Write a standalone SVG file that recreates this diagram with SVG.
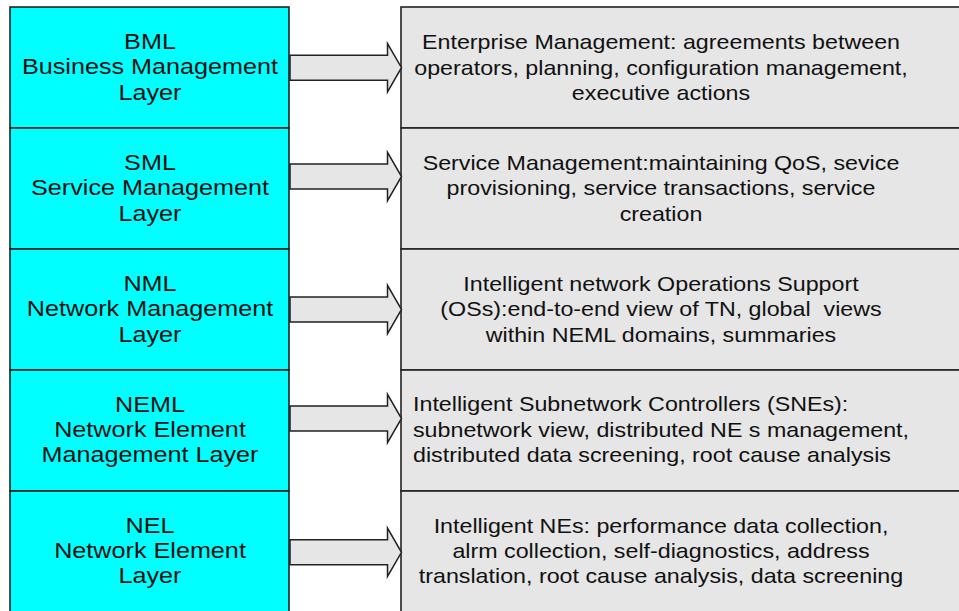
<svg xmlns="http://www.w3.org/2000/svg" width="959" height="611" viewBox="0 0 959 611">
<style>
.layer{fill:#00ffff;stroke:#222;stroke-width:1.6}
.func{fill:#e6e6e6;stroke:#222;stroke-width:1.6}
.arr{fill:#e6e6e6;stroke:#222;stroke-width:1.5;stroke-linejoin:miter}
text{font-family:"Liberation Sans",Arial,sans-serif;fill:#111}
.lt{font-size:22.1px;text-anchor:middle}
.rt{font-size:20.4px;text-anchor:middle}
.rs{font-size:20.4px;text-anchor:start}
</style>
<rect width="959" height="611" fill="#ffffff"/>
<g id="bml">
<rect class="layer" x="10" y="7" width="279" height="121"/>
<text class="lt" transform="translate(150 0) scale(1.14 1)"><tspan x="0" y="49">BML</tspan><tspan x="0" y="74.3">Business Management</tspan><tspan x="0" y="99.6">Layer</tspan></text>
</g>
<g id="sml">
<rect class="layer" x="10" y="128" width="279" height="121"/>
<text class="lt" transform="translate(150 0) scale(1.14 1)"><tspan x="0" y="170">SML</tspan><tspan x="0" y="195.3">Service Management</tspan><tspan x="0" y="220.6">Layer</tspan></text>
</g>
<g id="nml">
<rect class="layer" x="10" y="249" width="279" height="121"/>
<text class="lt" transform="translate(150 0) scale(1.14 1)"><tspan x="0" y="291">NML</tspan><tspan x="0" y="316.3">Network Management</tspan><tspan x="0" y="341.6">Layer</tspan></text>
</g>
<g id="neml">
<rect class="layer" x="10" y="370" width="279" height="121"/>
<text class="lt" transform="translate(150 0) scale(1.14 1)"><tspan x="0" y="411.7">NEML</tspan><tspan x="0" y="437">Network Element</tspan><tspan x="0" y="462.5">Management Layer</tspan></text>
</g>
<g id="nel">
<rect class="layer" x="10" y="491" width="279" height="130"/>
<text class="lt" transform="translate(150 0) scale(1.14 1)"><tspan x="0" y="532.7">NEL</tspan><tspan x="0" y="558">Network Element</tspan><tspan x="0" y="583.3">Layer</tspan></text>
</g>
<g id="enterprise">
<rect class="func" x="401" y="7" width="570" height="121"/>
<text class="rt" transform="translate(661 0) scale(1.14 1)"><tspan x="0" y="49.3">Enterprise Management: agreements between</tspan><tspan x="0" y="74.6">operators, planning, configuration management,</tspan><tspan x="0" y="99.9">executive actions</tspan></text>
</g>
<g id="service">
<rect class="func" x="401" y="128" width="570" height="121"/>
<text class="rt" transform="translate(661 0) scale(1.14 1)"><tspan x="0" y="170">Service Management:maintaining QoS, sevice</tspan><tspan x="0" y="195.3">provisioning, service transactions, service</tspan><tspan x="0" y="220.6">creation</tspan></text>
</g>
<g id="operations">
<rect class="func" x="401" y="249" width="570" height="121"/>
<text class="rt" transform="translate(661 0) scale(1.14 1)" xml:space="preserve"><tspan x="0" y="291">Intelligent network Operations Support</tspan><tspan x="0" y="316.3">(OSs):end-to-end view of TN, global  views</tspan><tspan x="0" y="341.6">within NEML domains, summaries</tspan></text>
</g>
<g id="subnetwork">
<rect class="func" x="401" y="370" width="570" height="121"/>
<text class="rs" transform="translate(413 0) scale(1.14 1)"><tspan x="0" y="411.5">Intelligent Subnetwork Controllers (SNEs):</tspan><tspan x="0" y="436.8">subnetwork view, distributed NE s management,</tspan><tspan x="0" y="462.1">distributed data screening, root cause analysis</tspan></text>
</g>
<g id="nes">
<rect class="func" x="401" y="491" width="570" height="130"/>
<text class="rt" transform="translate(661 0) scale(1.14 1)"><tspan x="0" y="532.7">Intelligent NEs: performance data collection,</tspan><tspan x="0" y="558">alrm collection, self-diagnostics, address</tspan><tspan x="0" y="583.3">translation, root cause analysis, data screening</tspan></text>
</g>
<g id="connectors">
<polygon class="arr" points="290,55.2 387.5,55.2 387.5,43.5 401.5,67.7 387.5,91.9 387.5,80.2 290,80.2"/>
<polygon class="arr" points="290,164 387.5,164 387.5,152.3 401.5,176.5 387.5,200.7 387.5,189 290,189"/>
<polygon class="arr" points="290,297 387.5,297 387.5,285.3 401.5,309.5 387.5,333.7 387.5,322 290,322"/>
<polygon class="arr" points="290,406 387.5,406 387.5,394.3 401.5,418.5 387.5,442.7 387.5,431 290,431"/>
<polygon class="arr" points="290,539.8 387.5,539.8 387.5,528.1 401.5,552.3 387.5,576.5 387.5,564.8 290,564.8"/>
</g>
</svg>
